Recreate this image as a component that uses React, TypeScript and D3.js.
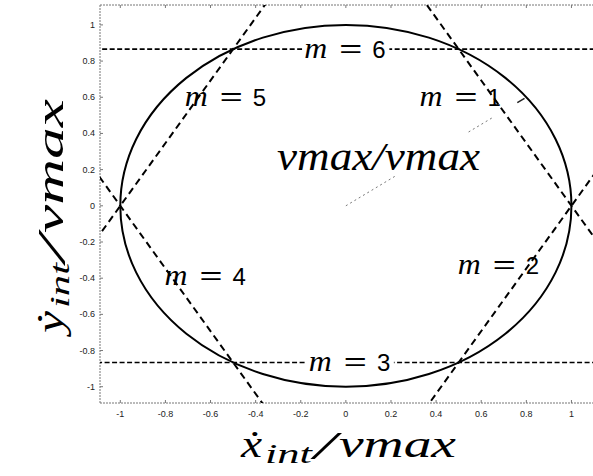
import React from "react";
import * as d3 from "d3";

// Tick positions and their printed labels
const tickValues = [-1, -0.8, -0.6, -0.4, -0.2, 0, 0.2, 0.4, 0.6, 0.8, 1];
const tickLabels = ["-1", "-0.8", "-0.6", "-0.4", "-0.2", "0", "0.2", "0.4", "0.6", "0.8", "1"];

// Hexagon vertices inscribed in the unit circle
const vertexX = [1, 0.5, -0.5, -1, -0.5, 0.5];
const vertexY = [0, -0.866, -0.866, 0, 0.866, 0.866];

// Each sector m is bounded by the line through two consecutive vertices
const sectorIds = [1, 2, 3, 4, 5, 6];
const sectorFrom = [5, 0, 1, 2, 3, 4];
const sectorTo = [0, 1, 2, 3, 4, 5];

// Where each "m = k" label sits (data coordinates)
const labelX = [0.51, 0.68, 0.02, -0.62, -0.53, 0.0];
const labelY = [0.6, -0.33, -0.866, -0.39, 0.6, 0.866];

// Radius annotation: unit vector drawn from the origin
const radiusEnd = [0.8, 0.6];
const radiusSegments = [
  [0, 0.28],
  [0.68, 0.82],
];

const W = 593;
const H = 476;
const plotLeft = 100;
const plotRight = 594;
const plotTop = 5;
const plotBottom = 403;

const serif = "'Liberation Serif', 'Times New Roman', serif";
const sans = "'Liberation Sans', Arial, sans-serif";

// Pieces of an axis title: main letter, subscript, slash, denominator
type Piece = { text: string; start: number; length: number; size: number; shift: number };

function AxisTitle({ pieces, baseline }: { pieces: Piece[]; baseline: number }) {
  return (
    <g fontFamily={serif} fontStyle="italic" fill="#000">
      {pieces.map((p, i) => (
        <text
          key={i}
          x={p.start}
          y={baseline + p.shift}
          fontSize={p.size}
          textLength={p.length}
          lengthAdjust="spacingAndGlyphs"
        >
          {p.text}
        </text>
      ))}
    </g>
  );
}

export default function App() {
  const x = d3.scaleLinear().domain([-1.09, 1.1]).range([plotLeft, plotRight]);
  const y = d3.scaleLinear().domain([-1.09, 1.11]).range([plotBottom, plotTop]);

  const extend = (i: number) => {
    const a = sectorFrom[i];
    const b = sectorTo[i];
    const x0 = vertexX[a], y0 = vertexY[a], x1 = vertexX[b], y1 = vertexY[b];
    const dx = x1 - x0, dy = y1 - y0;
    const k = 6;
    return {
      x1: x(x0 - k * dx),
      y1: y(y0 - k * dy),
      x2: x(x1 + k * dx),
      y2: y(y1 + k * dy),
      horizontal: Math.abs(dy) < 1e-6,
    };
  };

  const lines = sectorIds.map((_, i) => extend(i));

  const ox = x(0), oy = y(0);
  const ex = x(radiusEnd[0]), ey = y(radiusEnd[1]);

  const xTitle: Piece[] = [
    { text: "ẋ", start: 241, length: 21, size: 38, shift: 0 },
    { text: "int", start: 265, length: 47, size: 27, shift: 6 },
    { text: "/", start: 314, length: 22, size: 40, shift: 2 },
    { text: "vmax", start: 339, length: 117, size: 38, shift: 0 },
  ];
  const yTitle: Piece[] = [
    { text: "ẏ", start: -333, length: 22, size: 38, shift: 0 },
    { text: "int", start: -308, length: 45, size: 27, shift: 6 },
    { text: "/", start: -262, length: 26, size: 40, shift: 2 },
    { text: "vmax", start: -233, length: 134, size: 38, shift: 0 },
  ];

  return (
    <svg
      width={W}
      height={H}
      style={{ position: "absolute", left: 0, top: 0, background: "#fff" }}
    >
      <defs>
        <clipPath id="plotArea">
          <rect x={plotLeft} y={plotTop} width={plotRight - plotLeft} height={plotBottom - plotTop} />
        </clipPath>
      </defs>

      {/* frame */}
      <g stroke="#777" strokeWidth={1} strokeDasharray="2,1" fill="none">
        <line x1={plotLeft} y1={plotTop} x2={plotLeft} y2={plotBottom} />
        <line x1={plotLeft} y1={plotBottom} x2={W} y2={plotBottom} />
        <line x1={plotLeft} y1={plotTop} x2={W} y2={plotTop} />
      </g>
      <g stroke="#777" strokeWidth={1}>
        {tickValues.map((v, i) => (
          <g key={"t" + i}>
            <line x1={plotLeft} x2={plotLeft + 3} y1={y(v)} y2={y(v)} />
            <line x1={x(v)} x2={x(v)} y1={plotBottom} y2={plotBottom - 3} />
            <line x1={x(v)} x2={x(v)} y1={plotTop} y2={plotTop + 3} />
          </g>
        ))}
      </g>

      {/* tick labels */}
      <g fontFamily={sans} fontSize={9} fill="#222">
        {tickValues.map((v, i) => (
          <text key={"yl" + i} x={plotLeft - 5} y={y(v) + 3} textAnchor="end">
            {tickLabels[i]}
          </text>
        ))}
        {tickValues.map((v, i) => (
          <text key={"xl" + i} x={x(v)} y={417} textAnchor="middle">
            {tickLabels[i]}
          </text>
        ))}
      </g>

      <g clipPath="url(#plotArea)">
        {/* unit circle */}
        <ellipse
          cx={x(0)}
          cy={y(0)}
          rx={x(1) - x(0)}
          ry={y(0) - y(1)}
          fill="none"
          stroke="#000"
          strokeWidth={2}
        />

        {/* hexagon boundary lines */}
        {lines.map((l, i) => (
          <line
            key={"l" + i}
            x1={l.x1}
            y1={l.y1}
            x2={l.x2}
            y2={l.y2}
            stroke="#000"
            strokeWidth={l.horizontal ? 1.6 : 2}
            strokeDasharray={l.horizontal ? "5,2.5" : "7,4.5"}
          />
        ))}

        {/* radius annotation */}
        {radiusSegments.map((s, i) => (
          <line
            key={"r" + i}
            x1={ox + (ex - ox) * s[0]}
            y1={oy + (ey - oy) * s[0]}
            x2={ox + (ex - ox) * s[1]}
            y2={oy + (ey - oy) * s[1]}
            stroke="#555"
            strokeWidth={0.8}
            strokeDasharray="2,3"
          />
        ))}
        <line
          x1={ox + (ex - ox) * 0.95}
          y1={oy + (ey - oy) * 0.95}
          x2={ox + (ex - ox) * 0.99}
          y2={oy + (ey - oy) * 0.99}
          stroke="#222"
          strokeWidth={1.5}
        />
      </g>

      {/* sector labels */}
      {sectorIds.map((id, i) => {
        const cx = x(labelX[i]);
        const cy = y(labelY[i]);
        const left = cx - 41.5;
        const base = cy + 8.5;
        const horiz = lines[i].horizontal;
        return (
          <g key={"m" + id}>
            {horiz && <rect x={left - 2} y={cy - 12} width={87} height={24} fill="#fff" />}
            <text
              x={left}
              y={base}
              fontFamily={serif}
              fontStyle="italic"
              fontSize={30}
              fill="#000"
              textLength={23}
              lengthAdjust="spacingAndGlyphs"
            >
              m
            </text>
            <text
              x={left + 35}
              y={base - 1}
              fontFamily={sans}
              fontSize={26}
              fill="#000"
              textLength={23}
              lengthAdjust="spacingAndGlyphs"
            >
              =
            </text>
            <text x={left + 68} y={base} fontFamily={sans} fontSize={24} fill="#000">
              {id}
            </text>
          </g>
        );
      })}

      {/* radius label */}
      <text
        x={277}
        y={170}
        fontFamily={serif}
        fontStyle="italic"
        fontSize={40}
        fill="#000"
        textLength={203}
        lengthAdjust="spacingAndGlyphs"
      >
        vmax/vmax
      </text>

      {/* axis titles */}
      <AxisTitle pieces={xTitle} baseline={457} />
      <g transform="translate(63,0) rotate(-90)">
        <AxisTitle pieces={yTitle} baseline={0} />
      </g>
    </svg>
  );
}
